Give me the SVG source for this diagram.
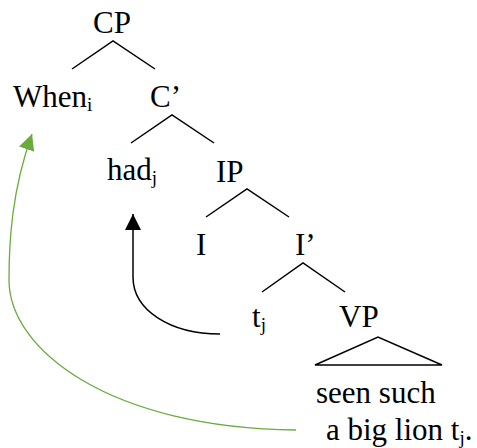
<svg xmlns="http://www.w3.org/2000/svg" width="477" height="448" viewBox="0 0 477 448">
<style>
.sub{font-size:19px}
.br{stroke:#000;stroke-width:1.5;fill:none}
</style>
<defs>
<marker id="ab" viewBox="0 0 10 10" refX="10" refY="5" markerWidth="16" markerHeight="16" markerUnits="userSpaceOnUse" orient="auto"><path d="M0,0L10,5L0,10Z" fill="#000"/></marker>
<marker id="ag" viewBox="0 0 10 10" refX="10" refY="5" markerWidth="16" markerHeight="16" markerUnits="userSpaceOnUse" orient="auto"><path d="M0,0L10,5L0,10Z" fill="#6aab3c"/></marker>
</defs>
<rect width="477" height="448" fill="#fff"/>
<g id="tree-lines">
<path class="br" d="M72,69L113,41L155,69"/>
<path class="br" d="M131,143L172,115L214,143"/>
<path class="br" d="M206,217L247,189L289,217"/>
<path class="br" d="M262,292L303,263L345,292"/>
<path class="br" d="M315,365L378,337L442,365Z"/>
</g>
<g font-family="'Liberation Serif', 'Times New Roman', 'DejaVu Serif', serif" font-size="31" fill="#000">
<g id="CP"><text x="93" y="33">CP</text></g>
<g id="When"><text x="13" y="107">When<tspan class="sub" dy="4">i</tspan></text></g>
<g id="Cbar"><text x="150" y="107">C’</text></g>
<g id="had"><text x="107" y="180">had<tspan class="sub" dy="4">j</tspan></text></g>
<g id="IP"><text x="216" y="182">IP</text></g>
<g id="I"><text x="196" y="255">I</text></g>
<g id="Ibar"><text x="295" y="255">I’</text></g>
<g id="tj"><text x="252" y="327">t<tspan class="sub" dy="4">j</tspan></text></g>
<g id="VP"><text x="339" y="327">VP</text></g>
<g id="VPtext"><text x="316" y="403">seen such</text><text x="326" y="440">a big lion t<tspan class="sub" dy="4">j</tspan><tspan dy="-4">.</tspan></text></g>
</g>
<g id="connectors">
<path d="M220,334C170,334 133,310 133,277L133,214" stroke="#000" stroke-width="1.5" fill="none" marker-end="url(#ab)"/>
<path d="M296,430C110,428 9,350 9,280C9,240 12,190 32,134" stroke="#6aab3c" stroke-width="1.3" fill="none" marker-end="url(#ag)"/>
</g>
</svg>
